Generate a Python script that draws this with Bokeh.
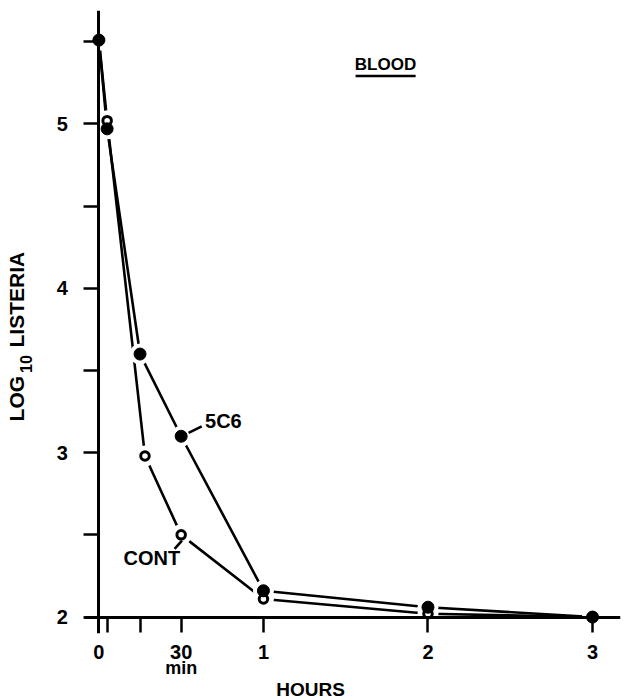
import math
from bokeh.plotting import figure
from bokeh.models import FixedTicker, Range1d, ColumnDataSource, LinearAxis
from bokeh.core.properties import value
from bokeh.embed import file_html
from bokeh.resources import INLINE

# ---- data ----
hours_5c6 = [0.0, 0.05, 0.25, 0.5, 1.0, 2.0, 3.0]
log_5c6 = [5.51, 4.97, 3.60, 3.10, 2.16, 2.06, 2.00]
hours_cont = [0.0, 0.05, 0.28, 0.5, 1.0, 2.0, 3.0]
log_cont = [5.51, 5.02, 2.98, 2.50, 2.11, 2.02, 2.00]

x_major = [0, 0.5, 1, 2, 3]
x_minor = [0.05, 0.25]
x_labels = {0: "0", 0.5: "30", 1: "1", 2: "2", 3: "3"}
x_labels2 = {0: "", 0.5: "min", 1: "", 2: "", 3: ""}
y_major = [2, 3, 4, 5]
y_minor = [2.5, 3.5, 4.5, 5.5]

FONT = "Liberation Sans"

p = figure(frame_width=620, frame_height=623, output_backend="svg",
           toolbar_location=None, x_range=Range1d(-0.598, 3.17),
           y_range=Range1d(1.9, 5.69),
           x_axis_location=None, y_axis_location=None,
           min_border_left=0, min_border_right=4, min_border_top=10,
           min_border_bottom=66)
p.outline_line_color = None
p.xgrid.visible = False
p.ygrid.visible = False
p.background_fill_color = "white"


def style_lines(ax):
    ax.axis_line_width = 3
    ax.axis_line_color = "black"
    ax.major_tick_line_width = 2.5
    ax.minor_tick_line_width = 2.5
    ax.major_tick_line_color = "black"
    ax.minor_tick_line_color = "black"
    ax.major_tick_in = 0
    ax.major_tick_out = 15
    ax.minor_tick_in = 0
    ax.minor_tick_out = 15


def style_labels(ax, size="20px"):
    ax.axis_line_color = None
    ax.major_tick_line_color = None
    ax.minor_tick_line_color = None
    ax.major_tick_in = 0
    ax.major_tick_out = 0
    ax.minor_tick_in = 0
    ax.minor_tick_out = 0
    ax.major_label_text_font = FONT
    ax.major_label_text_font_style = "bold"
    ax.major_label_text_font_size = size
    ax.major_label_text_color = "black"
    ax.axis_label_text_font = FONT
    ax.axis_label_text_font_style = "bold"
    ax.axis_label_text_font_size = "19px"
    ax.axis_label_text_color = "black"


# x axis drawn through y = 2 (line + ticks only)
xline = LinearAxis(ticker=FixedTicker(ticks=x_major, minor_ticks=x_minor),
                   fixed_location=2, bounds=(-0.09, 3.17))
style_lines(xline)
xline.major_label_text_font_size = "0px"
xline.major_label_text_color = None
p.add_layout(xline, "below")

# y axis drawn through x = 0 (line, ticks and tick labels)
yline = LinearAxis(ticker=FixedTicker(ticks=y_major, minor_ticks=y_minor),
                   fixed_location=0, bounds=(1.9, 5.69))
style_lines(yline)
yline.major_label_text_font = FONT
yline.major_label_text_font_style = "bold"
yline.major_label_text_font_size = "20px"
yline.major_label_text_color = "black"
yline.major_label_standoff = 16
p.add_layout(yline, "left")

# x labels at the frame edge
xlab = LinearAxis(ticker=FixedTicker(ticks=x_major),
                  major_label_overrides=x_labels)
style_labels(xlab)
xlab.major_label_standoff = 11
p.add_layout(xlab, "below")

xlab2 = LinearAxis(ticker=FixedTicker(ticks=x_major),
                   major_label_overrides=x_labels2, axis_label="HOURS")
style_labels(xlab2, "18px")
xlab2.major_label_standoff = -4
xlab2.axis_label_standoff = -2
p.add_layout(xlab2, "below")

# y-axis title: LOG with subscript 10, then LISTERIA (rotated)
p.text(x=[-0.5], y=[3.19], text=["LOG"], angle=math.pi / 2,
       text_font=value(FONT), text_font_style="bold", text_font_size="21px",
       text_align="left", text_baseline="middle", text_color="black")
p.text(x=[-0.445], y=[3.485], text=["10"], angle=math.pi / 2,
       text_font=value(FONT), text_font_style="bold", text_font_size="16px",
       text_align="left", text_baseline="middle", text_color="black")
p.text(x=[-0.5], y=[3.64], text=["LISTERIA"], angle=math.pi / 2,
       text_font=value(FONT), text_font_style="bold", text_font_size="21px",
       text_align="left", text_baseline="middle", text_color="black")

s5 = ColumnDataSource(dict(x=hours_5c6, y=log_5c6))
sc = ColumnDataSource(dict(x=hours_cont, y=log_cont))

p.line("x", "y", source=s5, line_color="black", line_width=2.6)
p.line("x", "y", source=sc, line_color="black", line_width=2.6)

# white halos so the lines stop short of the markers
p.scatter("x", "y", source=s5, size=21, fill_color="white", line_color=None)
p.scatter("x", "y", source=sc, size=21, fill_color="white", line_color=None)

p.scatter("x", "y", source=sc, size=8.5, fill_color="white", line_color="black",
          line_width=3)
p.scatter("x", "y", source=s5, size=12, fill_color="black", line_color="black")

# annotations
p.segment(x0=[0.545], y0=[3.12], x1=[0.625], y1=[3.16], line_color="black",
          line_width=2.6)
p.text(x=[0.645], y=[3.19], text=["5C6"], text_font=value(FONT),
       text_font_style="bold", text_font_size="20px", text_align="left",
       text_baseline="middle", text_color="black")

p.segment(x0=[0.46], y0=[2.415], x1=[0.505], y1=[2.465], line_color="black",
          line_width=2.6)
p.text(x=[0.15], y=[2.36], text=["CONT"], text_font=value(FONT),
       text_font_style="bold", text_font_size="20px", text_align="left",
       text_baseline="middle", text_color="black")

p.text(x=[1.742], y=[5.36], text=["BLOOD"], text_font=value(FONT),
       text_font_style="bold", text_font_size="17px", text_align="center",
       text_baseline="middle", text_color="black")
p.segment(x0=[1.56], y0=[5.292], x1=[1.925], y1=[5.292], line_color="black",
          line_width=2.5)

open("out.html", "w").write(file_html(p, INLINE))
